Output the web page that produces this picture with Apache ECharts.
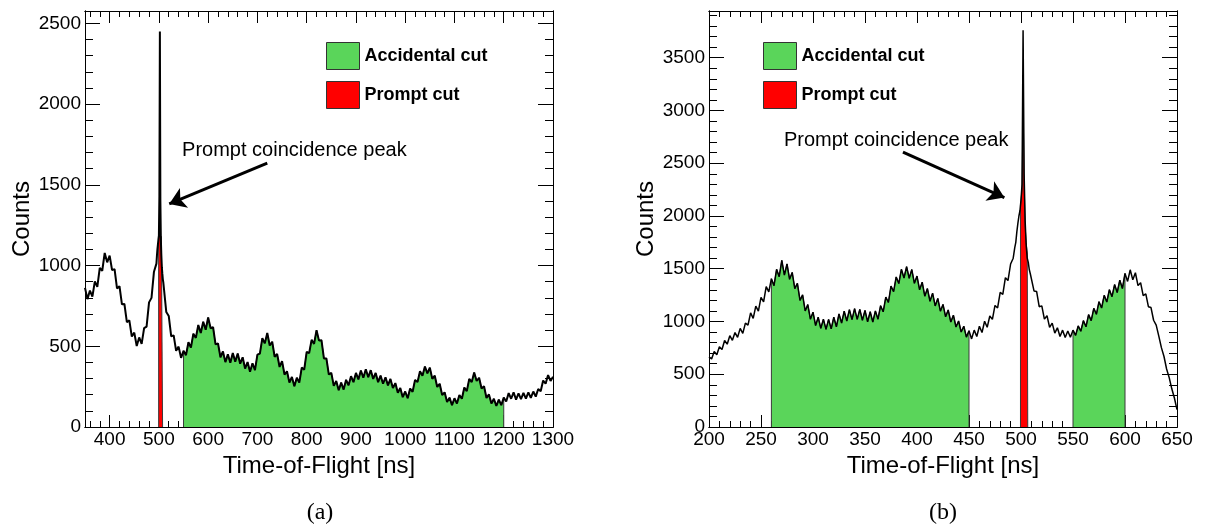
<!DOCTYPE html>
<html>
<head>
<meta charset="utf-8">
<title>Time-of-Flight spectra</title>
<script src="https://cdn.jsdelivr.net/npm/echarts@6.0.0/dist/echarts.min.js"></script>
<style>
  html, body { margin: 0; padding: 0; background: #fff; }
  #chart { width: 1205px; height: 527px; }
</style>
</head>
<body>
<div id="chart"></div>
<script>
const FONT = "'Liberation Sans', Arial, Helvetica, sans-serif";

// ---------- Panel (a): 350-1300 ns ----------
const binA = 5;
const tofStartA1 = 350;           // 350 ... 495 ns
const countsA1 = [
  862, 792, 845, 808, 902, 868, 985, 968, 1078, 1020,
  1062, 972, 978, 858, 872, 760, 762, 650, 660, 560,
  585, 502, 555, 515, 612, 622, 772, 800, 962, 1012
];
const peakTofA    = [496, 497, 498, 499, 500, 501, 502, 503, 504, 505, 506, 507, 508, 509];
const peakCountsA = [1060, 1100, 1130, 1160, 1185, 1430, 2450, 1400, 1160, 1060, 990, 950, 915, 895];
const tofStartA2 = 510;           // 510 ... 1300 ns
const countsA2 = [
  898, 712, 688, 562, 568, 472, 498, 428, 472, 445,
  525, 492, 578, 552, 632, 582, 652, 602, 678, 612,
  618, 512, 518, 432, 468, 402, 450, 398, 458, 405,
  455, 392, 432, 362, 402, 342, 395, 352, 448, 455,
  550, 518, 582, 505, 528, 435, 452, 372, 408, 325,
  345, 275, 310, 252, 305, 275, 368, 355, 465, 458,
  540, 515, 600, 535, 538, 425, 425, 325, 335, 255,
  285, 228, 275, 232, 292, 258, 315, 278, 335, 295,
  350, 305, 358, 308, 352, 298, 335, 278, 318, 268,
  308, 258, 298, 242, 272, 212, 242, 185, 220, 178,
  238, 218, 292, 278, 345, 318, 375, 332, 368, 298,
  318, 248, 268, 198, 215, 155, 182, 135, 178, 145,
  198, 175, 245, 222, 298, 278, 338, 285, 305, 238,
  252, 180, 202, 145, 175, 130, 170, 135, 182, 158,
  210, 175, 215, 170, 208, 172, 212, 176, 215, 180,
  220, 188, 235, 222, 288, 268, 322, 285, 312
];
const promptTofA    = [500, 501, 502, 503, 504, 505, 506, 507];
const promptCountsA = [1180, 1180, 1182, 1180, 1178, 1180, 1181, 1180];
const accidentalWindowsA = [[550, 1200]];
const xTicksA = [400, 500, 600, 700, 800, 900, 1000, 1100, 1200, 1300];
const yTicksA = [0, 500, 1000, 1500, 2000, 2500];

// ---------- Panel (b): 200-650 ns ----------
const binB = 2.5;
const tofStartB1 = 200;           // 200 ... 492.5 ns
const countsB1 = [
  665, 645, 715, 685, 760, 735, 820, 785,
  865, 822, 895, 850, 935, 888, 985, 965,
  1082, 1030, 1145, 1098, 1228, 1185, 1330, 1280,
  1405, 1340, 1495, 1425, 1580, 1440, 1545, 1400,
  1465, 1312, 1362, 1200, 1252, 1100, 1160, 1022,
  1088, 962, 1040, 935, 1022, 925, 1020, 930,
  1040, 950, 1072, 985, 1098, 1005, 1112, 1018,
  1122, 1020, 1115, 1012, 1105, 998, 1092, 995,
  1100, 1022, 1150, 1092, 1232, 1180, 1335, 1282,
  1422, 1360, 1495, 1412, 1520, 1410, 1492, 1362,
  1430, 1300, 1372, 1240, 1312, 1192, 1268, 1148,
  1218, 1098, 1162, 1045, 1110, 995, 1060, 948,
  1005, 900, 955, 852, 912, 835, 918, 858,
  955, 895, 1002, 945, 1052, 1020, 1152, 1128,
  1275, 1258, 1415, 1388, 1545, 1600
];
const peakTofB    = [494, 495, 496, 497, 498, 499, 500, 501, 502, 503, 504, 505, 506, 507, 508, 509];
const peakCountsB = [1700, 1750, 1850, 1930, 2000, 2050, 2150, 2300, 3760, 2400, 1950, 1720, 1600, 1560, 1490, 1450];
const tofStartB2 = 510;           // 510 ... 650 ns
const countsB2 = [
  1445, 1290, 1285, 1140, 1148, 1022, 1055, 945,
  985, 890, 940, 858, 918, 848, 910, 850,
  918, 868, 958, 908, 1008, 950, 1065, 1008,
  1125, 1068, 1188, 1128, 1248, 1185, 1302, 1235,
  1350, 1275, 1392, 1312, 1455, 1380, 1490, 1395,
  1462, 1340, 1368, 1245, 1262, 1140, 1132, 1012,
  965, 862, 752, 668, 550, 468, 362, 275,
  165
];
const promptTofB    = [500, 501, 502, 503, 504, 505, 506];
const promptCountsB = [2100, 2250, 3100, 2350, 1900, 1750, 1650];
const accidentalWindowsB = [[260, 450], [550, 600]];
const xTicksB = [200, 250, 300, 350, 400, 450, 500, 550, 600, 650];
const yTicksB = [0, 500, 1000, 1500, 2000, 2500, 3000, 3500];

const GREEN = '#5ad55a';
const RED = '#ff0000';

// ---------- helpers ----------
function histogram(start, step, counts) {
  return counts.map((c, i) => [start + i * step, c]);
}
function pairs(tofs, counts) {
  return tofs.map((t, i) => [t, counts[i]]);
}
function windowFill(data, lo, hi) {
  const inside = data.filter(p => p[0] >= lo && p[0] <= hi);
  return [[lo, 0]].concat(inside, [[hi, 0]]);
}
function promptFill(tofs, counts) {
  const n = tofs.length;
  const pts = pairs(tofs, counts);
  return [[tofs[0] - 0.5, 0], [tofs[0] - 0.5, counts[0]]]
    .concat(pts, [[tofs[n - 1] + 0.5, counts[n - 1]], [tofs[n - 1] + 0.5, 0]]);
}
function minorTicks(from, to, step, majorStep) {
  const out = [];
  for (let v = from; v <= to; v += step) if (v % majorStep !== 0) out.push(v);
  return out;
}

const spectrumA = histogram(tofStartA1, binA, countsA1)
  .concat(pairs(peakTofA, peakCountsA), histogram(tofStartA2, binA, countsA2));
const spectrumB = histogram(tofStartB1, binB, countsB1)
  .concat(pairs(peakTofB, peakCountsB), histogram(tofStartB2, binB, countsB2));

// Axes: per side one axis for the labelled major ticks and one for the minor ticks.
// Ticks point into the frame (negative length flips them inward).
function buildAxes(dim, gridIndex, min, max, major, minor, name, nameGap, majorLen, minorLen) {
  const isX = dim === 'x';
  const sides = isX ? ['bottom', 'top'] : ['left', 'right'];
  const axes = [];
  sides.forEach((pos, s) => {
    [major, minor].forEach((vals, k) => {
      const labelled = s === 0 && k === 0;
      axes.push({
        type: 'value', gridIndex, min, max, position: pos, silent: true,
        name: labelled ? name : '',
        nameLocation: 'middle', nameGap,
        nameTextStyle: { fontSize: 24, color: '#000', fontFamily: FONT },
        axisLine: { show: true, onZero: false, lineStyle: { color: '#000', width: 1 } },
        axisTick: { show: true, inside: false, length: -(k === 0 ? majorLen : minorLen),
                    customValues: vals, lineStyle: { color: '#000', width: 1 } },
        axisLabel: { show: labelled, customValues: vals, margin: isX ? 3 : 4,
                     formatter: v => String(v),
                     fontSize: 19, color: '#000', fontFamily: FONT },
        splitLine: { show: false },
        minorTick: { show: false }
      });
    });
  });
  return axes;
}

const xAxes = []
  .concat(buildAxes('x', 0, 350, 1300, xTicksA, minorTicks(360, 1300, 20, 100), 'Time-of-Flight [ns]', 20, 12, 6))
  .concat(buildAxes('x', 1, 200, 650, xTicksB, minorTicks(200, 650, 10, 50), 'Time-of-Flight [ns]', 20, 12, 6));
const yAxes = []
  .concat(buildAxes('y', 0, 0, 2577, yTicksA, minorTicks(0, 2500, 100, 500), 'Counts', 48, 15, 8))
  .concat(buildAxes('y', 1, 0, 3943, yTicksB, minorTicks(0, 3900, 100, 500), 'Counts', 48, 15, 8));

function fill(name, data, color, xi) {
  return {
    name, type: 'line', xAxisIndex: xi, yAxisIndex: xi, data,
    showSymbol: false, symbol: 'none', z: 2, silent: true,
    itemStyle: { color },
    lineStyle: { color: '#3a3a3a', width: 1 },
    areaStyle: { color, opacity: 1 }
  };
}
function spectrum(data, xi, width, arrow, textAt) {
  return {
    name: 'Counts', type: 'line', xAxisIndex: xi, yAxisIndex: xi, data,
    showSymbol: false, symbol: 'none', z: 3, silent: true,
    lineStyle: { color: '#000', width },
    itemStyle: { color: '#000' },
    markLine: {
      silent: true, symbol: ['none', 'arrow'], symbolSize: 16,
      label: { show: false },
      lineStyle: { color: '#000', width: 3, type: 'solid' },
      data: [[{ coord: arrow[0] }, { coord: arrow[1] }]]
    },
    markPoint: {
      silent: true, symbol: 'rect', symbolSize: 1,
      itemStyle: { color: 'rgba(0,0,0,0)' },
      label: { show: true, position: 'inside', formatter: 'Prompt coincidence peak',
               fontSize: 20, color: '#000', fontFamily: FONT },
      data: [{ coord: textAt }]
    }
  };
}

const series = [];
accidentalWindowsA.forEach(w => series.push(fill('Accidental cut', windowFill(spectrumA, w[0], w[1]), GREEN, 0)));
series.push(fill('Prompt cut', promptFill(promptTofA, promptCountsA), RED, 0));
series.push(spectrum(spectrumA, 0, 2, [[720, 1634], [521, 1382]], [775, 1714]));
accidentalWindowsB.forEach(w => series.push(fill('Accidental cut', windowFill(spectrumB, w[0], w[1]), GREEN, 4)));
series.push(fill('Prompt cut', promptFill(promptTofB, promptCountsB), RED, 4));
series.push(spectrum(spectrumB, 4, 1.5, [[386.5, 2606], [484, 2175]], [380, 2719]));

function legendAt(left) {
  return {
    left, top: 37, orient: 'vertical', itemGap: 11, itemWidth: 33, itemHeight: 27,
    icon: 'rect', selectedMode: false,
    textStyle: { fontSize: 18, fontWeight: 'bold', color: '#000', fontFamily: FONT },
    data: [
      { name: 'Accidental cut', itemStyle: { color: GREEN, borderColor: '#333', borderWidth: 1 } },
      { name: 'Prompt cut', itemStyle: { color: RED, borderColor: '#333', borderWidth: 1 } }
    ]
  };
}

const chart = echarts.init(document.getElementById('chart'), null, { renderer: 'canvas' });
chart.setOption({
  animation: false,
  backgroundColor: '#fff',
  grid: [
    { left: 85, top: 11, width: 468, height: 416 },
    { left: 709, top: 11, width: 468, height: 416 }
  ],
  xAxis: xAxes,
  yAxis: yAxes,
  legend: [legendAt(321), legendAt(758)],
  series,
  graphic: [
    { type: 'text', x: 320, y: 513, silent: true,
      style: { text: '(a)', textAlign: 'center', textVerticalAlign: 'middle',
               font: "24px 'Liberation Serif', 'DejaVu Serif', serif", fill: '#000' } },
    { type: 'text', x: 943, y: 513, silent: true,
      style: { text: '(b)', textAlign: 'center', textVerticalAlign: 'middle',
               font: "24px 'Liberation Serif', 'DejaVu Serif', serif", fill: '#000' } }
  ]
});
</script>
</body>
</html>
